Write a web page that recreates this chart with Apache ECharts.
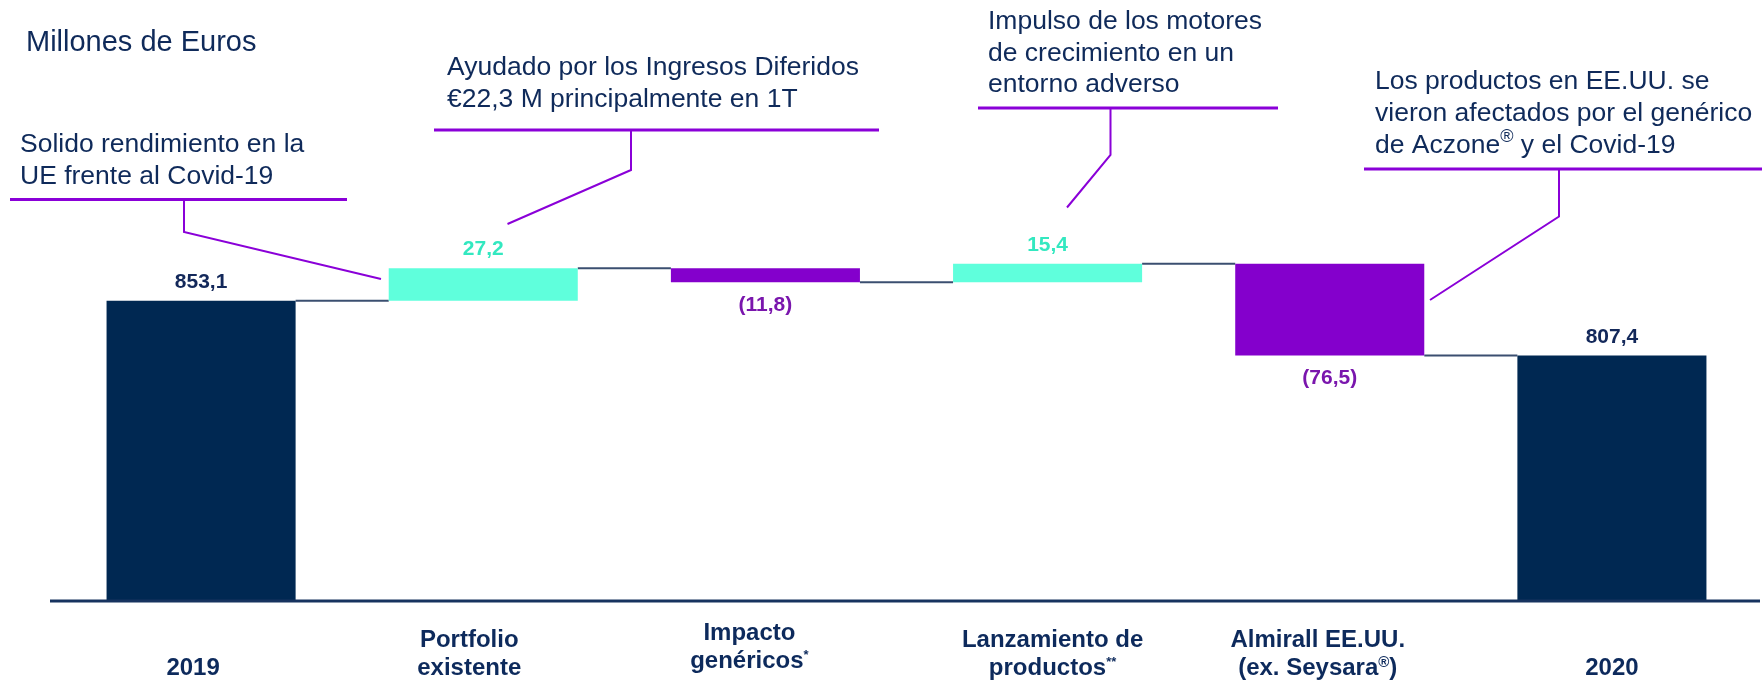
<!DOCTYPE html>
<html>
<head>
<meta charset="utf-8">
<script src="https://cdn.jsdelivr.net/npm/echarts@6/dist/echarts.min.js"></script>
<style>
html,body{margin:0;padding:0;background:#fff;}
#chart{width:1762px;height:680px;}
</style>
</head>
<body>
<div id="chart"></div>
<script>
// ---- data ----
const categories = ['2019', 'Portfolio\nexistente', 'Impacto\ngenéricos*', 'Lanzamiento de\nproductos**', 'Almirall EE.UU.\n(ex. Seysara®)', '2020'];
const values = [853.1, 27.2, -11.8, 15.4, -76.5, 807.4];
const kinds = ['total', 'delta', 'delta', 'delta', 'delta', 'total'];
const unitLabel = 'Millones de Euros';
const notes = [
  ['Solido rendimiento en la', 'UE frente al Covid-19'],
  ['Ayudado por los Ingresos Diferidos', '€22,3 M principalmente en 1T'],
  ['Impulso de los motores', 'de crecimiento en un', 'entorno adverso'],
  ['Los productos en EE.UU. se', 'vieron afectados por el genérico', 'de Aczone® y el Covid-19']
];

// ---- layout (not data) ----
const labelShift = [-8, -14, -16, 5, -12, 0];
const FONT = "'Liberation Sans', Arial, Helvetica, sans-serif";
const NAVY = '#002852', TEAL = '#5fffdc', PURPLE = '#8400cc';
const TEXT = '#0f2a5a';

// ---- derived waterfall arrays ----
const helper = [], visible = [], levels = [];
let run = 0;
values.forEach((v, i) => {
  if (kinds[i] === 'total') { helper.push(0); visible.push(v); run = v; }
  else {
    const next = run + v;
    helper.push(Math.min(run, next));
    visible.push(Math.abs(v));
    run = next;
  }
  levels.push(run);
});
const fmt = v => (v < 0 ? '(' : '') + Math.abs(v).toFixed(1).replace('.', ',') + (v < 0 ? ')' : '');
const visData = visible.map((v, i) => {
  const k = kinds[i], neg = values[i] < 0;
  const col = k === 'total' ? NAVY : (neg ? PURPLE : TEAL);
  const lcol = k === 'total' ? '#13285a' : (neg ? '#7a16ad' : '#33e8c0');
  return {
    value: v,
    itemStyle: { color: col },
    label: {
      show: true, position: neg ? 'bottom' : 'top', distance: neg ? 12 : 8,
      formatter: fmt(values[i]), color: lcol, fontSize: 21, fontWeight: 'bold', fontFamily: FONT
    }
  };
});
const connData = levels.slice(0, levels.length - 1).map((l, i) => [i, l]);

const richStyles = {
  b: { fontSize: 24, fontWeight: 'bold', color: '#0d2a5c', fontFamily: FONT, lineHeight: 28 },
  s: { fontSize: 13, fontWeight: 'bold', color: '#0d2a5c', fontFamily: FONT, lineHeight: 28, verticalAlign: 'top', padding: [2, 0, 0, 0] },
  r: { fontSize: 15, fontWeight: 'bold', color: '#0d2a5c', fontFamily: FONT, lineHeight: 28, verticalAlign: 'top', padding: [1, 0, 0, 0] },
  sp: { fontSize: 1, lineHeight: 7 },
  sp2: { fontSize: 1, lineHeight: 35 }
};
labelShift.forEach((s, i) => { richStyles['w' + i] = { fontSize: 1, lineHeight: 28, width: Math.abs(s) * 2 }; });

function catLabel(val, idx) {
  const lines = val.split('\n');
  const s = labelShift[idx] || 0;
  const pad = s !== 0 ? '{w' + idx + '| }' : '';
  const conv = ln => {
    let out = '';
    const re = /(\*+|®)/g;
    let last = 0, m;
    while ((m = re.exec(ln)) !== null) {
      if (m.index > last) out += '{b|' + ln.slice(last, m.index) + '}';
      out += (m[1] === '®' ? '{r|' : '{s|') + m[1] + '}';
      last = m.index + m[1].length;
    }
    if (last < ln.length) out += '{b|' + ln.slice(last) + '}';
    return s < 0 ? out + pad : pad + out;
  };
  const body = lines.map(conv).join('\n');
  const shifted = val.indexOf('Impacto') === 0;
  if (lines.length === 1) return '{sp2| }\n' + body;
  return shifted ? body : '{sp| }\n' + body;
}

const chart = echarts.init(document.getElementById('chart'), null, { renderer: 'canvas' });

const graphics = [];
graphics.push({ type: 'text', x: 26, y: 43, style: { text: unitLabel, font: '29px ' + FONT, fill: TEXT, textVerticalAlign: 'middle' } });
const noteX = [20, 447, 988, 1375];
const noteY = [[145, 177], [68, 100], [22, 54, 85], [82, 113.5, 145.5]];
notes.forEach((ls, n) => {
  ls.forEach((t, j) => {
    const m = t.match(/^(.*?)®(.*)$/);
    const st = { x: noteX[n], y: noteY[n][j], font: '26.5px ' + FONT, fill: TEXT, textVerticalAlign: 'middle' };
    if (m) {
      st.text = '{a|' + m[1] + '}{r|®}{a|' + m[2] + '}';
      st.rich = {
        a: { fontSize: 26.5, fontFamily: FONT, fill: TEXT, color: TEXT, lineHeight: 30 },
        r: { fontSize: 18, fontFamily: FONT, fill: TEXT, color: TEXT, verticalAlign: 'top', lineHeight: 30, padding: [-2, 0, 0, 0] }
      };
    } else st.text = t;
    graphics.push({ type: 'text', x: 0, y: 0, style: st });
  });
});
const LC = '#8a00d8';
const hl = [[10, 347, 199.5], [434, 879, 130], [978, 1278, 108], [1364, 1762, 169]];
hl.forEach(h => graphics.push({ type: 'line', shape: { x1: h[0], y1: h[2], x2: h[1], y2: h[2] }, style: { stroke: LC, lineWidth: 3 } }));
const pl = [
  [[184, 199.5], [184, 232], [381, 279]],
  [[631, 130], [631, 170], [507.5, 224]],
  [[1110.5, 108], [1110.5, 155], [1067, 207.5]],
  [[1559, 169], [1559, 216.5], [1430, 300]]
];
pl.forEach(p => graphics.push({ type: 'polyline', shape: { points: p }, style: { stroke: LC, lineWidth: 2, fill: null } }));
// axis baseline extends slightly beyond the plot area
graphics.push({ type: 'line', z: 10, shape: { x1: 50, y1: 601, x2: 1760, y2: 601 }, style: { stroke: '#17335f', lineWidth: 3 } });

chart.setOption({
  animation: false,
  backgroundColor: '#ffffff',
  grid: { left: 60, right: 9, top: 241, bottom: 79, containLabel: false },
  xAxis: {
    type: 'category', data: categories,
    axisLine: { show: false },
    axisTick: { show: false },
    axisLabel: { interval: 0, margin: 19, formatter: catLabel, rich: richStyles }
  },
  yAxis: { type: 'value', min: 603, max: 903, show: false, splitLine: { show: false } },
  series: [
    { type: 'bar', stack: 'w', data: helper, barWidth: '67%', itemStyle: { color: 'transparent' }, silent: true, clip: true },
    { type: 'bar', stack: 'w', data: visData, barWidth: '67%', clip: true },
    {
      type: 'custom', data: connData, clip: false, z: 1,
      renderItem: (params, api) => {
        const p = api.coord([api.value(0), api.value(1)]);
        const band = api.size([1, 0])[0];
        const bw = band * 0.67;
        return { type: 'line', shape: { x1: p[0] + bw / 2, y1: p[1], x2: p[0] + band - bw / 2, y2: p[1] }, style: { stroke: '#3b4f70', lineWidth: 2 } };
      }
    }
  ],
  graphic: graphics
});
</script>
</body>
</html>
